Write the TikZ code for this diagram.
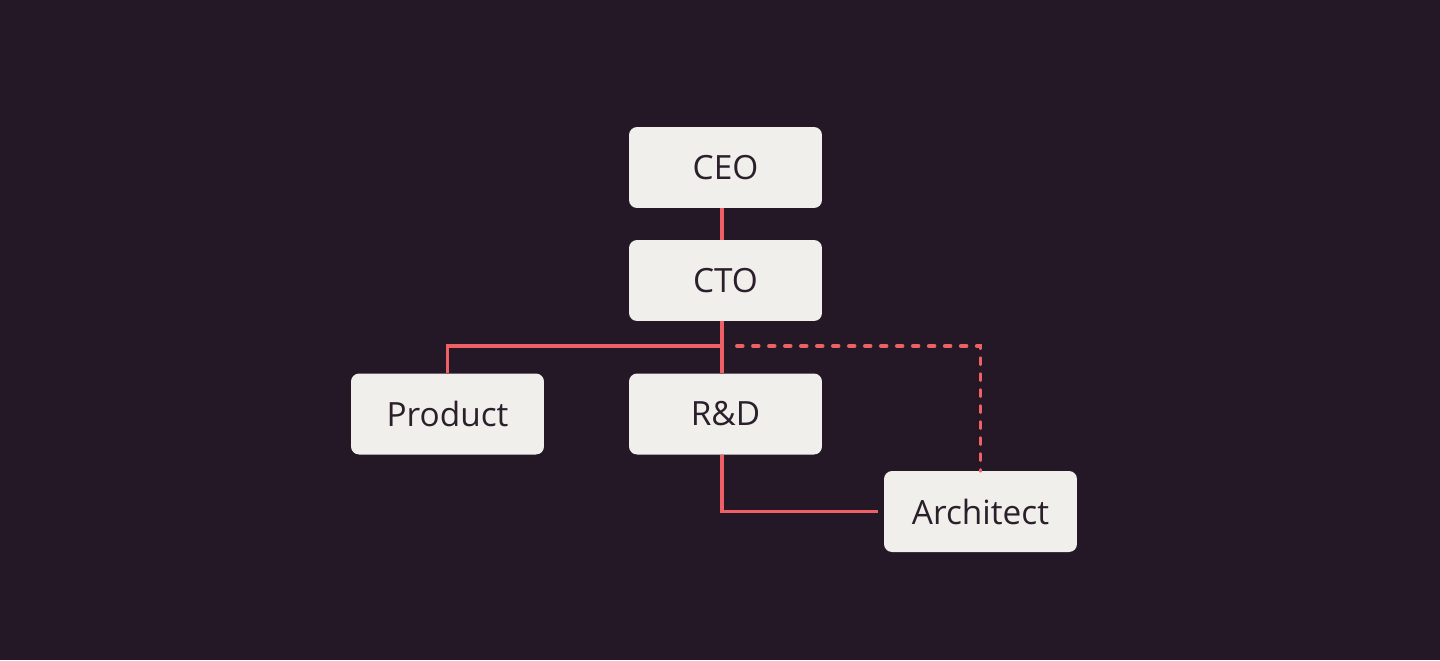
\documentclass[tikz,border=0pt]{standalone}
\usepackage{fontspec}
\setmainfont{Open Sans}
\usepackage{tikz}

\definecolor{bgdark}{HTML}{241826}
\definecolor{boxfill}{HTML}{F0EFEB}
\definecolor{boxtext}{HTML}{2A1F2B}
\definecolor{linkred}{HTML}{EE5F66}

\tikzset{
  box/.style={fill=boxfill, text=boxtext, rounded corners=0.16cm,
    minimum width=3.86cm, minimum height=1.62cm, inner sep=0pt,
    font=\fontsize{19}{23}\selectfont},
  link/.style={draw=linkred, line width=2.2pt},
  dotlink/.style={link, line cap=round, dash pattern=on 3.2pt off 5.9pt}
}

\begin{document}
\begin{tikzpicture}[x=0.02cm, y=-0.02cm]
    \fill[bgdark] (0,0) rectangle (1440,660);
    \useasboundingbox (0,0) rectangle (1440,660);
    \node[box] (ceo) at (725.5,167.5) {CEO};
    \node[box] (cto) at (725.5,280.5) {CTO};
    \node[box] (product) at (447.5,414) {Product};
    \node[box] (rnd) at (725.5,414) {R\&D};
    \node[box] (architect) at (980.5,511.5) {Architect};
    \coordinate (bus) at (722,346);
    \coordinate (dashstart) at (737,346);
    \draw[link] ([xshift=-0.07cm]ceo.south) -- ([xshift=-0.07cm]cto.north);
    \draw[link] ([xshift=-0.07cm]cto.south) -- ([xshift=-0.07cm]rnd.north);
    \draw[link] (product.north) |- (bus);
    \draw[dotlink] (dashstart) -| (architect.north);
    \draw[link] ([xshift=-0.07cm]rnd.south) |- ([xshift=-0.12cm]architect.west);
  \end{tikzpicture}
\end{document}
